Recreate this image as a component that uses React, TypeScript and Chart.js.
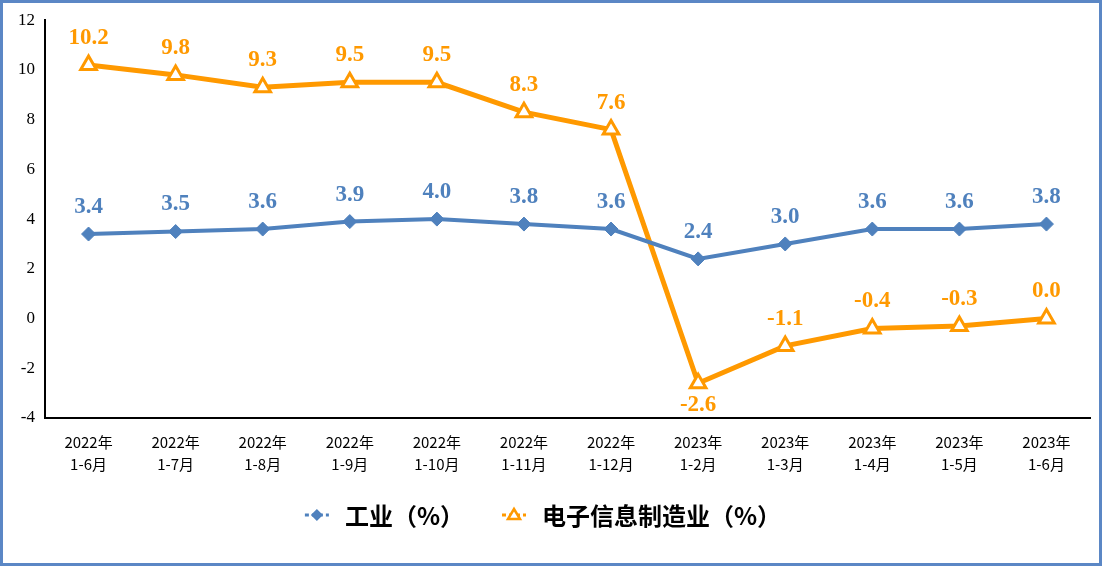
import React, { useEffect, useRef } from "react";
import { Chart, registerables } from "chart.js";

Chart.register(...registerables);

const categories: string[][] = [
  ["2022年", "1-6月"], ["2022年", "1-7月"], ["2022年", "1-8月"], ["2022年", "1-9月"],
  ["2022年", "1-10月"], ["2022年", "1-11月"], ["2022年", "1-12月"], ["2023年", "1-2月"],
  ["2023年", "1-3月"], ["2023年", "1-4月"], ["2023年", "1-5月"], ["2023年", "1-6月"],
];
const industry: number[] = [3.4, 3.5, 3.6, 3.9, 4.0, 3.8, 3.6, 2.4, 3.0, 3.6, 3.6, 3.8];
const electronics: number[] = [10.2, 9.8, 9.3, 9.5, 9.5, 8.3, 7.6, -2.6, -1.1, -0.4, -0.3, 0.0];
const seriesNames: string[] = ["工业（%）", "电子信息制造业（%）"];
const yTicks: number[] = [-4, -2, 0, 2, 4, 6, 8, 10, 12];

const BLUE = "#4F81BD";
const ORANGE = "#FF9900";

const frameAndLabels = {
  id: "frameAndLabels",
  beforeDraw(chart: any) {
    const { ctx, width, height } = chart;
    ctx.save();
    ctx.fillStyle = "#fff";
    ctx.fillRect(0, 0, width, height);
    ctx.restore();
  },
  afterDraw(chart: any) {
    const { ctx, width, height } = chart;
    ctx.save();
    // border
    ctx.strokeStyle = "#5B87C5";
    ctx.lineWidth = 3;
    ctx.strokeRect(1.5, 1.5, width - 3, height - 3);

    // data labels
    ctx.font = "bold 23px 'Liberation Serif', 'Times New Roman', serif";
    ctx.textAlign = "center";
    ctx.textBaseline = "middle";
    chart.data.datasets.forEach((ds: any, di: number) => {
      const meta = chart.getDatasetMeta(di);
      const min = Math.min(...ds.data);
      meta.data.forEach((pt: any, i: number) => {
        const v = ds.data[i];
        const below = v === min && v < 0;
        ctx.fillStyle = ds.borderColor;
        ctx.fillText(v.toFixed(1), pt.x, below ? pt.y + 22 : pt.y - 27);
      });
    });

    // legend
    const ly = 515;
    ctx.font = "bold 24px 'Noto Sans CJK SC', sans-serif";
    ctx.textAlign = "left";
    ctx.textBaseline = "middle";
    const items = [
      { color: BLUE, name: seriesNames[0], kind: "diamond" },
      { color: ORANGE, name: seriesNames[1], kind: "triangle" },
    ];
    const markerW = 24;
    const gapAfterMarker = 16;
    const gapBetween = 38;
    let total = 0;
    items.forEach((it, i) => {
      total += markerW + gapAfterMarker + ctx.measureText(it.name).width + (i < items.length - 1 ? gapBetween : 0);
    });
    let x = 543 - total / 2;
    items.forEach((it) => {
      ctx.strokeStyle = it.color;
      ctx.lineWidth = 3;
      ctx.setLineDash([4, 3]);
      ctx.beginPath();
      ctx.moveTo(x, ly);
      ctx.lineTo(x + markerW, ly);
      ctx.stroke();
      ctx.setLineDash([]);
      const cx = x + markerW / 2;
      if (it.kind === "diamond") {
        ctx.fillStyle = it.color;
        ctx.beginPath();
        ctx.moveTo(cx, ly - 6);
        ctx.lineTo(cx + 6, ly);
        ctx.lineTo(cx, ly + 6);
        ctx.lineTo(cx - 6, ly);
        ctx.closePath();
        ctx.fill();
      } else {
        ctx.fillStyle = "#fff";
        ctx.lineWidth = 2.5;
        ctx.beginPath();
        ctx.moveTo(cx, ly - 6);
        ctx.lineTo(cx + 6, ly + 4);
        ctx.lineTo(cx - 6, ly + 4);
        ctx.closePath();
        ctx.fill();
        ctx.stroke();
      }
      ctx.fillStyle = "#000";
      ctx.fillText(it.name, x + markerW + gapAfterMarker, ly + 1);
      x += markerW + gapAfterMarker + ctx.measureText(it.name).width + gapBetween;
    });
    ctx.restore();
  },
};

export default function App() {
  const ref = useRef<HTMLCanvasElement | null>(null);
  useEffect(() => {
    if (!ref.current) return;
    const chart = new Chart(ref.current, {
      type: "line",
      data: {
        labels: categories,
        datasets: [
          {
            label: seriesNames[0],
            data: industry,
            borderColor: BLUE,
            backgroundColor: BLUE,
            borderWidth: 4,
            pointStyle: "rectRot",
            pointRadius: 7,
            pointBorderWidth: 1,
            pointBackgroundColor: BLUE,
            pointBorderColor: BLUE,
            tension: 0,
          },
          {
            label: seriesNames[1],
            data: electronics,
            borderColor: ORANGE,
            backgroundColor: ORANGE,
            borderWidth: 5,
            pointStyle: "triangle",
            pointRadius: 9,
            pointBorderWidth: 3,
            pointBackgroundColor: "#fff",
            pointBorderColor: ORANGE,
            tension: 0,
          },
        ],
      },
      options: {
        animation: false,
        responsive: false,
        devicePixelRatio: 1,
        layout: { padding: { top: 18, right: 10, left: 0, bottom: 0 } },
        plugins: { legend: { display: false }, tooltip: { enabled: false } },
        scales: {
          x: {
            offset: true,
            grid: { display: false, drawTicks: false },
            border: { display: true, color: "#000", width: 2 },
            ticks: {
              color: "#000",
              padding: 13,
              maxRotation: 0,
              autoSkip: false,
              font: { family: "'Noto Sans CJK SC', sans-serif", size: 15, lineHeight: 1.5 },
            },
            afterFit: (s: any) => { s.height = 148; },
          },
          y: {
            min: -4,
            max: 12,
            afterBuildTicks: (s: any) => { s.ticks = yTicks.map((v) => ({ value: v })); },
            grid: { display: false, drawTicks: false },
            border: { display: true, color: "#000", width: 2 },
            ticks: {
              color: "#000",
              padding: 10,
              font: { family: "'Liberation Serif', 'Times New Roman', serif", size: 17 },
            },
            afterFit: (s: any) => { s.width = 45; },
          },
        },
      },
      plugins: [frameAndLabels],
    });
    return () => chart.destroy();
  }, []);
  return (
    <div style={{ position: "fixed", left: 0, top: 0, width: 1102, height: 566 }}>
      <canvas ref={ref} width={1102} height={566} style={{ display: "block", width: 1102, height: 566 }} />
    </div>
  );
}
